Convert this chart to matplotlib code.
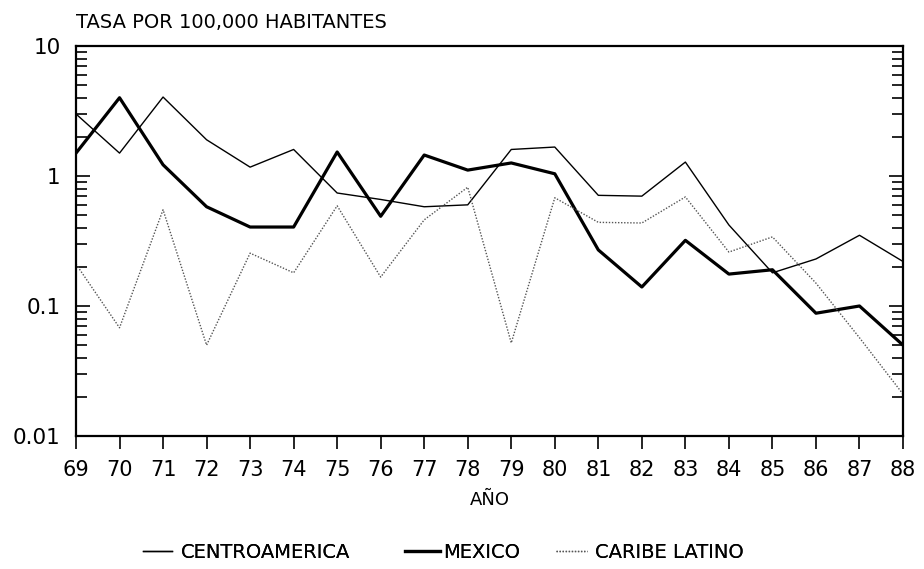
import matplotlib
matplotlib.use("Agg")
import matplotlib.pyplot as plt
from matplotlib.ticker import LogLocator, FixedLocator, NullFormatter

years = list(range(69, 89))
year_labels = [str(y) for y in years]

centroamerica = [3.0, 1.5, 4.05, 1.9, 1.17, 1.6, 0.74, 0.66, 0.58, 0.60, 1.6, 1.67,
                 0.71, 0.70, 1.28, 0.42, 0.18, 0.23, 0.35, 0.22]
mexico = [1.5, 4.0, 1.22, 0.58, 0.405, 0.405, 1.53, 0.49, 1.45, 1.11, 1.26, 1.04,
          0.27, 0.14, 0.32, 0.176, 0.19, 0.088, 0.10, 0.05]
caribe = [0.21, 0.068, 0.55, 0.05, 0.255, 0.18, 0.59, 0.167, 0.46, 0.82, 0.052, 0.68,
          0.44, 0.435, 0.69, 0.26, 0.34, 0.15, 0.057, 0.021]

y_ticks = [0.01, 0.1, 1, 10]
y_tick_labels = ["0.01", "0.1", "1", "10"]

plt.rcParams['font.family'] = ['DejaVu Sans']

fig = plt.figure(figsize=(9.24, 5.69), dpi=100)
ax = fig.add_axes([76/924, 1 - 436/569, (903-76)/924, (436-46)/569])

l1, = ax.plot(years, centroamerica, color="black", lw=1.0, label="CENTROAMERICA")
l2, = ax.plot(years, mexico, color="black", lw=2.3, label="MEXICO")
l3, = ax.plot(years, caribe, color="#555555", lw=1.0, ls=(0, (1, 1.2)), label="CARIBE LATINO")

ax.set_yscale("log")
ax.set_ylim(0.01, 10)
ax.set_xlim(69, 88)
ax.set_xticks(years)
ax.set_xticklabels(year_labels, fontsize=15)
ax.yaxis.set_major_locator(FixedLocator(y_ticks))
ax.set_yticklabels(y_tick_labels, fontsize=15.5)
ax.yaxis.set_minor_locator(LogLocator(base=10, subs=range(2, 10)))
ax.yaxis.set_minor_formatter(NullFormatter())

for s in ax.spines.values():
    s.set_linewidth(1.6)

ax.tick_params(axis="x", direction="out", length=9, width=1.2, pad=8)
ax.tick_params(axis="y", which="major", direction="in", length=10, width=1.2,
               left=True, right=True, pad=11)
ax.tick_params(axis="y", which="minor", direction="in", length=8, width=1.2,
               left=True, right=True)

fig.text(76/924, 1 - 22/569, "TASA POR 100,000 HABITANTES", fontsize=14,
         ha="left", va="center")
ax.set_xlabel("AÑO", fontsize=13, labelpad=8)

legend_y = 1 - 552/569
specs = [(l1, "CENTROAMERICA", 143/924, 1.5, 0.45),
         (l2, "MEXICO", 405/924, 1.8, 0.15),
         (l3, "CARIBE LATINO", 556/924, 1.6, 0.4)]
for handle, label, xpos, hl, hp in specs:
    leg = fig.legend([handle], [label], loc="center left", bbox_to_anchor=(xpos, legend_y),
                     frameon=False, fontsize=14, handlelength=hl, handletextpad=hp,
                     borderpad=0, borderaxespad=0)
    fig.add_artist(leg)

fig.savefig("out.png", dpi=100)
